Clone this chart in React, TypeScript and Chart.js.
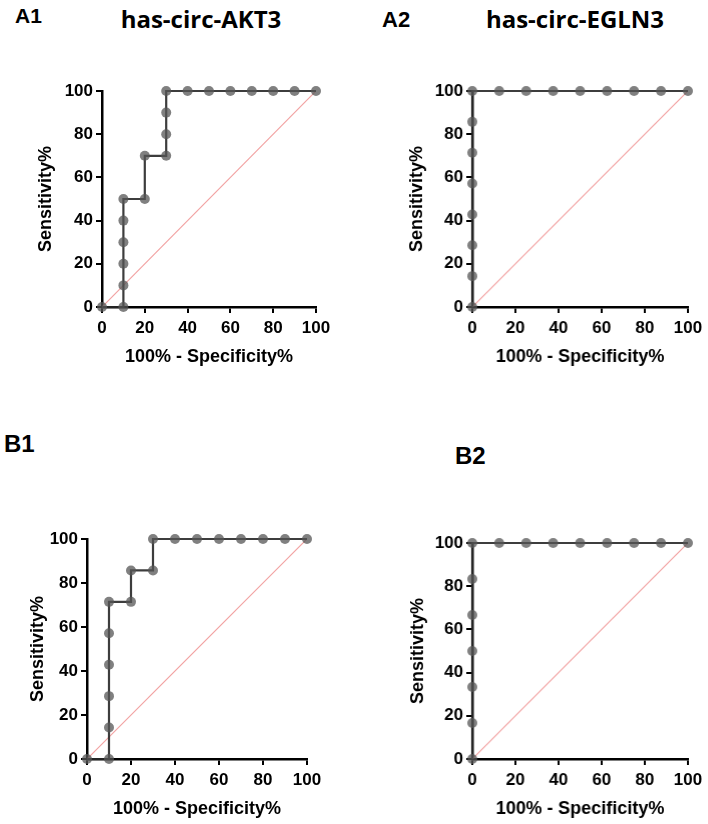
import React, { useEffect, useRef } from "react";
import { Chart, registerables } from "chart.js";

Chart.register(...registerables);

// ROC curve for has-circ-AKT3 (panel A1)
const akt3Fpr = [0, 10, 10, 10, 10, 10, 10, 20, 20, 30, 30, 30, 30, 40, 50, 60, 70, 80, 90, 100];
const akt3Sens = [0, 0, 10, 20, 30, 40, 50, 50, 70, 70, 80, 90, 100, 100, 100, 100, 100, 100, 100, 100];

// ROC curve for has-circ-EGLN3 (panel A2)
const egln3Fpr = [0, 0, 0, 0, 0, 0, 0, 0, 12.5, 25, 37.5, 50, 62.5, 75, 87.5, 100];
const egln3Sens = [0, 14.29, 28.57, 42.86, 57.14, 71.43, 85.71, 100, 100, 100, 100, 100, 100, 100, 100, 100];

// ROC curve for panel B1
const b1Fpr = [0, 10, 10, 10, 10, 10, 10, 20, 20, 30, 30, 40, 50, 60, 70, 80, 90, 100];
const b1Sens = [0, 0, 14.29, 28.57, 42.86, 57.14, 71.43, 71.43, 85.71, 85.71, 100, 100, 100, 100, 100, 100, 100, 100];

// ROC curve for panel B2
const b2Fpr = [0, 0, 0, 0, 0, 0, 0, 12.5, 25, 37.5, 50, 62.5, 75, 87.5, 100];
const b2Sens = [0, 16.67, 33.33, 50, 66.67, 83.33, 100, 100, 100, 100, 100, 100, 100, 100, 100];

// Reference (chance) line
const chanceX = [0, 100];
const chanceY = [0, 100];

const axisMin = 0;
const axisMax = 100;
const axisStep = 20;

const xAxisTitle = "100% - Specificity%";
const yAxisTitle = "Sensitivity%";

type Area = { l: number; t: number; r: number; b: number };

const Y_W = 90; // width reserved for the y scale
const X_H = 70; // height reserved for the x scale
const PAD_T = 30;
const PAD_R = 30;

const TICK_FONT = { family: "'Liberation Sans', Arial, sans-serif", size: 17, weight: "bold" as const };
const TITLE_FONT = { family: "'Liberation Sans', Arial, sans-serif", size: 18, weight: "bold" as const, lineHeight: 1.2 };

function RocPanel(props: { fpr: number[]; sens: number[]; area: Area; yTitleX: number }) {
  const { fpr, sens, area, yTitleX } = props;
  const ref = useRef<HTMLCanvasElement | null>(null);

  const left = area.l - Y_W;
  const top = area.t - PAD_T;
  const width = area.r - area.l + Y_W + PAD_R;
  const height = area.b - area.t + PAD_T + X_H;

  useEffect(() => {
    if (!ref.current) return;
    const half = (TITLE_FONT.size * TITLE_FONT.lineHeight) / 2;
    const yTitlePad = yTitleX - left - half;
    const xTitlePad = X_H - 50.5 - half;

    const chart = new Chart(ref.current, {
      type: "line",
      data: {
        datasets: [
          {
            data: fpr.map((x, i) => ({ x, y: sens[i] })),
            borderColor: "rgba(40,40,40,0.9)",
            borderWidth: 2.2,
            pointRadius: 5,
            pointBackgroundColor: "rgba(85,85,85,0.75)",
            pointBorderWidth: 0,
            tension: 0,
            clip: false as any,
          },
          {
            data: chanceX.map((x, i) => ({ x, y: chanceY[i] })),
            borderColor: "#f2a3a3",
            borderWidth: 1.2,
            pointRadius: 0,
            tension: 0,
          },
        ],
      },
      options: {
        responsive: false,
        animation: false,
        devicePixelRatio: 1,
        layout: { padding: { left: 0, top: PAD_T, right: PAD_R, bottom: 0 } },
        plugins: { legend: { display: false }, tooltip: { enabled: false } },
        scales: {
          x: {
            type: "linear",
            min: axisMin,
            max: axisMax,
            afterFit: (s: any) => {
              s.height = X_H;
            },
            ticks: { stepSize: axisStep, padding: 5, color: "#000", font: TICK_FONT, autoSkip: false, maxRotation: 0 },
            grid: { drawOnChartArea: false, drawTicks: true, tickLength: 6, color: "#000", lineWidth: 2 },
            border: { display: true, color: "#000", width: 2.5 },
            title: { display: true, text: xAxisTitle, color: "#000", font: TITLE_FONT, padding: { top: 0, bottom: xTitlePad } },
          },
          y: {
            type: "linear",
            min: axisMin,
            max: axisMax,
            afterFit: (s: any) => {
              s.width = Y_W;
            },
            ticks: { stepSize: axisStep, padding: 3, color: "#000", font: TICK_FONT },
            grid: { drawOnChartArea: false, drawTicks: true, tickLength: 6, color: "#000", lineWidth: 2 },
            border: { display: true, color: "#000", width: 2.5 },
            title: { display: true, text: yAxisTitle, color: "#000", font: TITLE_FONT, padding: { top: yTitlePad, bottom: 0 } },
          },
        },
      },
    });
    return () => chart.destroy();
  }, []);

  return (
    <canvas
      ref={ref}
      width={width}
      height={height}
      style={{ position: "absolute", left, top, width, height }}
    />
  );
}

// Text placed by the vertical centre of its glyphs
function Label(props: { text: string; x: number; cy: number; size: number; family: string; center?: boolean }) {
  const { text, x, cy, size, family, center } = props;
  return (
    <div
      style={{
        position: "absolute",
        left: center ? x - 200 : x,
        width: center ? 400 : undefined,
        textAlign: center ? "center" : "left",
        top: cy,
        height: 0,
        lineHeight: 0,
        fontSize: size,
        fontFamily: family,
        fontWeight: "bold",
        color: "#000",
        whiteSpace: "nowrap",
      }}
    >
      {text}
    </div>
  );
}

export default function App() {
  const arial = "'Liberation Sans', Arial, sans-serif";
  const titleFont = "'Open Sans', sans-serif";
  return (
    <div style={{ position: "absolute", left: 0, top: 0, width: 708, height: 824, background: "#fff", overflow: "hidden" }}>
      <Label text="A1" x={15} cy={16} size={21} family={arial} />
      <Label text="has-circ-AKT3" x={201} cy={19} size={24} family={titleFont} center />
      <Label text="A2" x={382} cy={20} size={22} family={arial} />
      <Label text="has-circ-EGLN3" x={575} cy={19} size={24} family={titleFont} center />
      <Label text="B1" x={4} cy={444} size={24} family={arial} />
      <Label text="B2" x={455} cy={455.5} size={24} family={arial} />

      <RocPanel fpr={akt3Fpr} sens={akt3Sens} area={{ l: 101.7, t: 90.7, r: 316, b: 306.7 }} yTitleX={45.5} />
      <RocPanel fpr={egln3Fpr} sens={egln3Sens} area={{ l: 472.3, t: 90.7, r: 688.3, b: 306.7 }} yTitleX={417} />
      <RocPanel fpr={b1Fpr} sens={b1Sens} area={{ l: 86.7, t: 539.3, r: 306.7, b: 759.3 }} yTitleX={38} />
      <RocPanel fpr={b2Fpr} sens={b2Sens} area={{ l: 472.3, t: 543.3, r: 688.3, b: 759.3 }} yTitleX={418} />
    </div>
  );
}
